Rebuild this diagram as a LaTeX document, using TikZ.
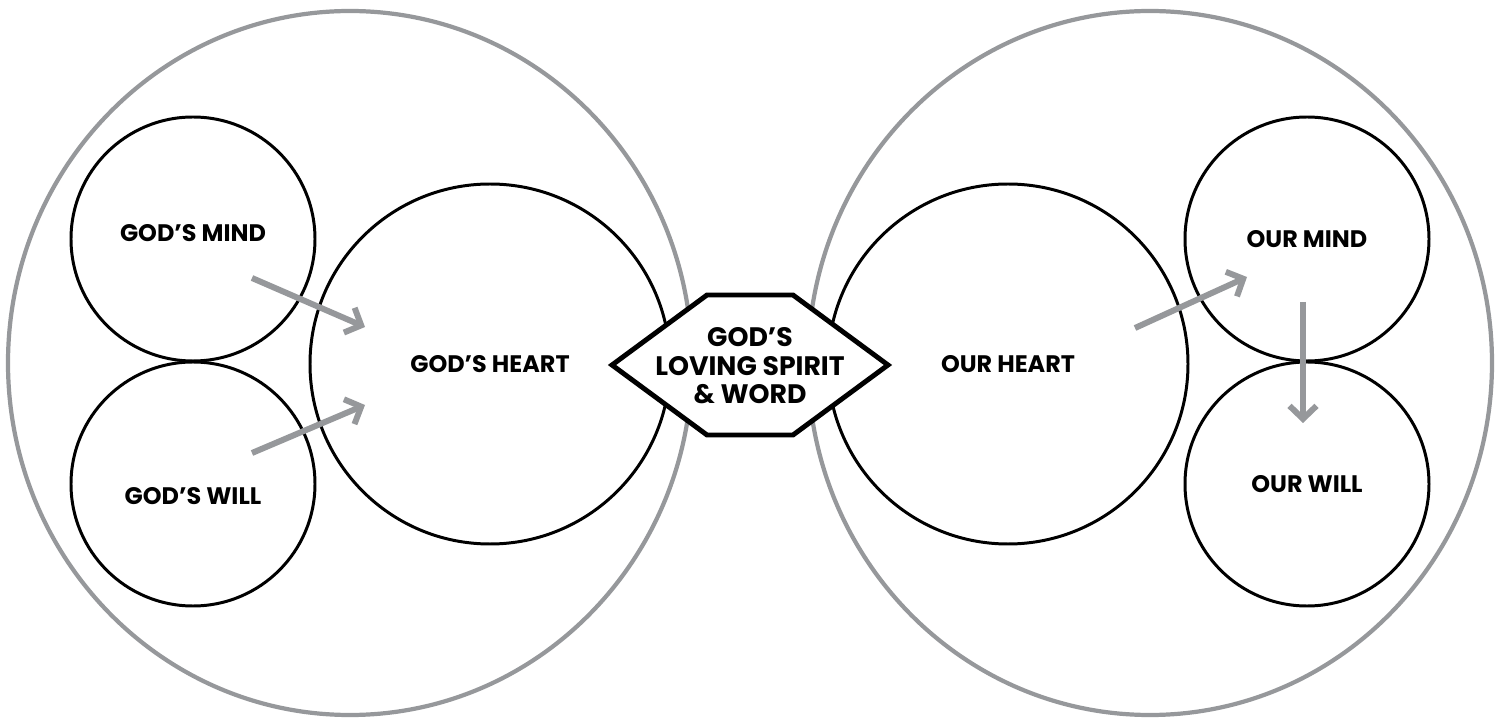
\documentclass[tikz,border=0pt]{standalone}
\usepackage{fontspec}
\setmainfont{Poppins}
\usetikzlibrary{arrows.meta}
\definecolor{ringgray}{RGB}{150,152,155}
\definecolor{arrowgray}{RGB}{150,152,155}

\begin{document}
\begin{tikzpicture}[
    ring/.style={draw=ringgray, line width=1.2pt},
    smallcirc/.style={circle, draw=black, line width=0.85pt, minimum size=2.44cm, inner sep=0pt},
    bigcirc/.style={circle, draw=black, line width=0.85pt, minimum size=3.6cm, inner sep=0pt},
    lbl/.style={font=\bfseries\fontsize{6.8}{8}\selectfont, align=center, inner sep=0pt},
    flow/.style={draw=arrowgray, line width=1.7pt, -{Straight Barb[length=1.3mm, width=2.7mm]}}
  ]
  \useasboundingbox (0,0) rectangle (15,7.24);
  % outer rings
  \draw[ring] (3.50,3.61) ellipse [x radius=3.42, y radius=3.52];
  \draw[ring] (11.50,3.61) ellipse [x radius=3.42, y radius=3.52];
  % God's side
  \node[smallcirc] (gmind) at (1.93,4.85) {};
  \node[smallcirc] (gwill) at (1.93,2.40) {};
  \node[bigcirc, lbl] (gheart) at (4.90,3.60) {GOD’S HEART};
  \node[lbl] (gmindtxt) at ([yshift=0.06cm]gmind.center) {GOD’S MIND};
  \node[lbl] (gwilltxt) at ([yshift=-0.12cm]gwill.center) {GOD’S WILL};
  % our side
  \node[bigcirc, lbl] (oheart) at (10.08,3.60) {OUR HEART};
  \node[smallcirc, lbl] (omind) at (13.07,4.85) {OUR MIND};
  \node[smallcirc, lbl] (owill) at (13.07,2.40) {OUR WILL};
  % the bridge
  \filldraw[fill=white, draw=black, line width=1.4pt, line join=miter]
    (6.12,3.59) -- (7.07,4.29) -- (7.93,4.29) -- (8.88,3.59)
    -- (7.93,2.89) -- (7.07,2.89) -- cycle;
  \node[lbl, font=\bfseries\fontsize{7.6}{8.1}\selectfont] (spirit) at (7.50,3.58)
    {GOD’S\\LOVING SPIRIT\\\&~WORD};
  % arrow ends
  \coordinate (a1) at (2.52,4.46);
  \coordinate (b1) at (3.65,3.97);
  \coordinate (a2) at (2.52,2.71);
  \coordinate (b2) at (3.65,3.19);
  \coordinate (a3) at (11.35,3.96);
  \coordinate (b3) at (12.47,4.47);
  \coordinate (a4) at (13.03,4.22);
  \coordinate (b4) at (13.03,3.01);
  \draw[flow] (a1) -- (b1);
  \draw[flow] (a2) -- (b2);
  \draw[flow] (a3) -- (b3);
  \draw[flow] (a4) -- (b4);
\end{tikzpicture}
\end{document}
